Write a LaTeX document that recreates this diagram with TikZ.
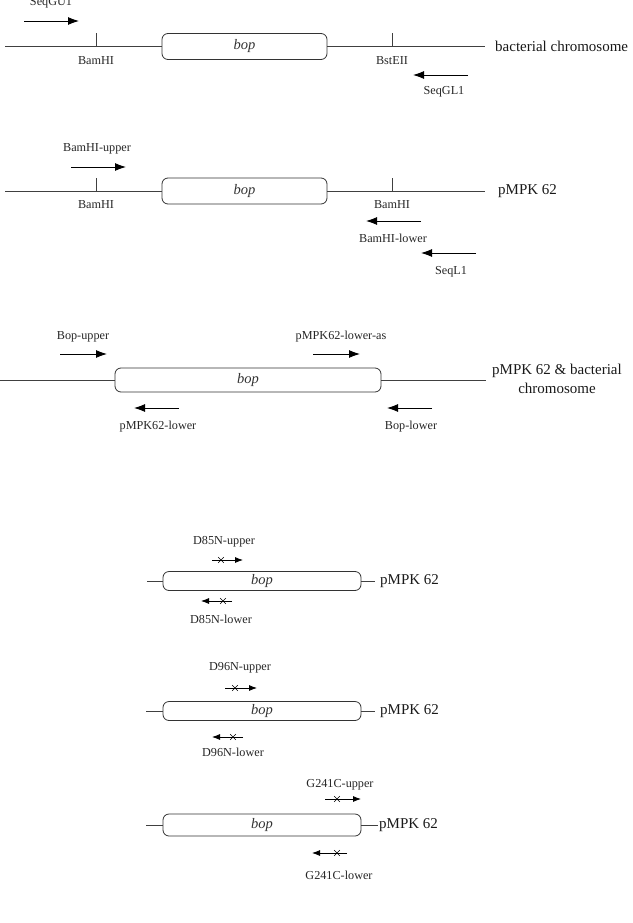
\documentclass[tikz,border=0pt]{standalone}
\usepackage{fontspec}
\setmainfont{Liberation Serif}
\usetikzlibrary{arrows.meta,shapes.misc}
\begin{document}
\begin{tikzpicture}[x=1pt,y=-1pt,
  genebox/.style={draw=black!80, line width=0.8pt, rounded corners=6pt, inner sep=0pt, font=\fontsize{14.5}{16}\selectfont\itshape, text=black!80},
  dna/.style={draw=black!75, line width=0.8pt},
  primer/.style={draw=black, line width=0.9pt, -{Latex[length=11pt,width=8pt]}},
  sprimer/.style={draw=black, line width=0.8pt, -{Latex[length=8pt,width=6pt]}},
  lbl/.style={font=\fontsize{12.2}{14}\selectfont, text=black!85, inner sep=0pt},
  big/.style={font=\fontsize{15}{17}\selectfont, text=black!90, inner sep=0pt},
  mutx/.style={cross out, draw=black, line width=0.6pt, minimum size=5pt, inner sep=0pt},
  ]
\useasboundingbox (0,0) rectangle (632,923);

% ---------------- Section 1 ----------------
\node[genebox, minimum width=165pt, minimum height=26pt] (g1) at (244.5,46.5) {bop};
\coordinate (l1a) at (5,46.5); \coordinate (l1b) at (485,46.5);
\draw[dna] (l1a) -- (g1.west); \draw[dna] (g1.east) -- (l1b);
\coordinate (t1a) at (96,46.5); \coordinate (t1b) at (96,33);
\coordinate (t2a) at (392,46.5); \coordinate (t2b) at (392,33);
\draw[dna] (t1a) -- (t1b); \draw[dna] (t2a) -- (t2b);
\node[lbl] (bam1) at (96,61) {BamHI};
\node[lbl] (bst1) at (392,61) {BstEII};
\node[big, anchor=west] (bc1) at (495,46.5) {bacterial chromosome};
\coordinate (p1a) at (24,21); \coordinate (p1b) at (79,21);
\draw[primer] (p1a) -- (p1b);
\node[lbl] (sgu) at (51,3) {SeqGU1};
\coordinate (p2a) at (468,75); \coordinate (p2b) at (413,75);
\draw[primer] (p2a) -- (p2b);
\node[lbl] (sgl) at (444,92) {SeqGL1};

% ---------------- Section 2 ----------------
\node[genebox, minimum width=165pt, minimum height=26pt] (g2) at (244.5,191) {bop};
\coordinate (l2a) at (5,191); \coordinate (l2b) at (485,191);
\draw[dna] (l2a) -- (g2.west); \draw[dna] (g2.east) -- (l2b);
\coordinate (t3a) at (96,191); \coordinate (t3b) at (96,178);
\coordinate (t4a) at (392,191); \coordinate (t4b) at (392,178);
\draw[dna] (t3a) -- (t3b); \draw[dna] (t4a) -- (t4b);
\node[lbl] (bam2) at (96,205) {BamHI};
\node[lbl] (bam3) at (392,205) {BamHI};
\node[big, anchor=west] (pm2) at (498,191) {pMPK 62};
\node[lbl] (bhu) at (97,149) {BamHI-upper};
\coordinate (p3a) at (71,167); \coordinate (p3b) at (126,167);
\draw[primer] (p3a) -- (p3b);
\coordinate (p4a) at (421,221); \coordinate (p4b) at (366,221);
\draw[primer] (p4a) -- (p4b);
\node[lbl] (bhl) at (393,238) {BamHI-lower};
\coordinate (p5a) at (476,253); \coordinate (p5b) at (421,253);
\draw[primer] (p5a) -- (p5b);
\node[lbl] (sl1) at (451,272) {SeqL1};

% ---------------- Section 3 ----------------
\node[genebox, minimum width=266pt, minimum height=24pt] (g3) at (248,380) {bop};
\coordinate (l3a) at (0,380); \coordinate (l3b) at (486,380);
\draw[dna] (l3a) -- (g3.west); \draw[dna] (g3.east) -- (l3b);
\node[lbl] (bu) at (83,337) {Bop-upper};
\coordinate (p6a) at (60,354); \coordinate (p6b) at (107,354);
\draw[primer] (p6a) -- (p6b);
\node[lbl] (pla) at (341,337) {pMPK62-lower-as};
\coordinate (p7a) at (313,354); \coordinate (p7b) at (360,354);
\draw[primer] (p7a) -- (p7b);
\coordinate (p8a) at (179,408); \coordinate (p8b) at (134,408);
\draw[primer] (p8a) -- (p8b);
\node[lbl] (pl) at (158,427) {pMPK62-lower};
\coordinate (p9a) at (432,408); \coordinate (p9b) at (387,408);
\draw[primer] (p9a) -- (p9b);
\node[lbl] (bl) at (411,427) {Bop-lower};
\node[big, align=center] (pmbc) at (557,379) {pMPK 62 \& bacterial\\[2pt]chromosome};

% ---------------- Section 4: D85N ----------------
\node[genebox, minimum width=198pt, minimum height=19pt] (g4) at (262,581) {bop};
\coordinate (l4a) at (147,581); \coordinate (l4b) at (375,581);
\draw[dna] (l4a) -- (g4.west); \draw[dna] (g4.east) -- (l4b);
\node[big, anchor=west] (pm4) at (380,581) {pMPK 62};
\node[lbl] (d85u) at (224,542) {D85N-upper};
\coordinate (q1a) at (212,560); \coordinate (q1b) at (243,560);
\draw[sprimer] (q1a) -- (q1b);
\node[mutx] (x1) at (221,560) {};
\coordinate (q2a) at (232,601); \coordinate (q2b) at (201,601);
\draw[sprimer] (q2a) -- (q2b);
\node[mutx] (x2) at (223,601) {};
\node[lbl] (d85l) at (221,619) {D85N-lower};

% ---------------- Section 5: D96N ----------------
\node[genebox, minimum width=198pt, minimum height=19pt] (g5) at (262,711) {bop};
\coordinate (l5a) at (146,711); \coordinate (l5b) at (375,711);
\draw[dna] (l5a) -- (g5.west); \draw[dna] (g5.east) -- (l5b);
\node[big, anchor=west] (pm5) at (380,711) {pMPK 62};
\node[lbl] (d96u) at (240,668) {D96N-upper};
\coordinate (q3a) at (225,688); \coordinate (q3b) at (257,688);
\draw[sprimer] (q3a) -- (q3b);
\node[mutx] (x3) at (235,688) {};
\coordinate (q4a) at (243,737); \coordinate (q4b) at (212,737);
\draw[sprimer] (q4a) -- (q4b);
\node[mutx] (x4) at (233,737) {};
\node[lbl] (d96l) at (233,752) {D96N-lower};

% ---------------- Section 6: G241C ----------------
\node[genebox, minimum width=198pt, minimum height=22pt] (g6) at (262,825) {bop};
\coordinate (l6a) at (146,825); \coordinate (l6b) at (378,825);
\draw[dna] (l6a) -- (g6.west); \draw[dna] (g6.east) -- (l6b);
\node[big, anchor=west] (pm6) at (379,825) {pMPK 62};
\node[lbl] (gu) at (340,785) {G241C-upper};
\coordinate (q5a) at (325,799); \coordinate (q5b) at (361,799);
\draw[sprimer] (q5a) -- (q5b);
\node[mutx] (x5) at (337,799) {};
\coordinate (q6a) at (347,853); \coordinate (q6b) at (312,853);
\draw[sprimer] (q6a) -- (q6b);
\node[mutx] (x6) at (337,853) {};
\node[lbl] (gl) at (339,875) {G241C-lower};
\end{tikzpicture}
\end{document}
